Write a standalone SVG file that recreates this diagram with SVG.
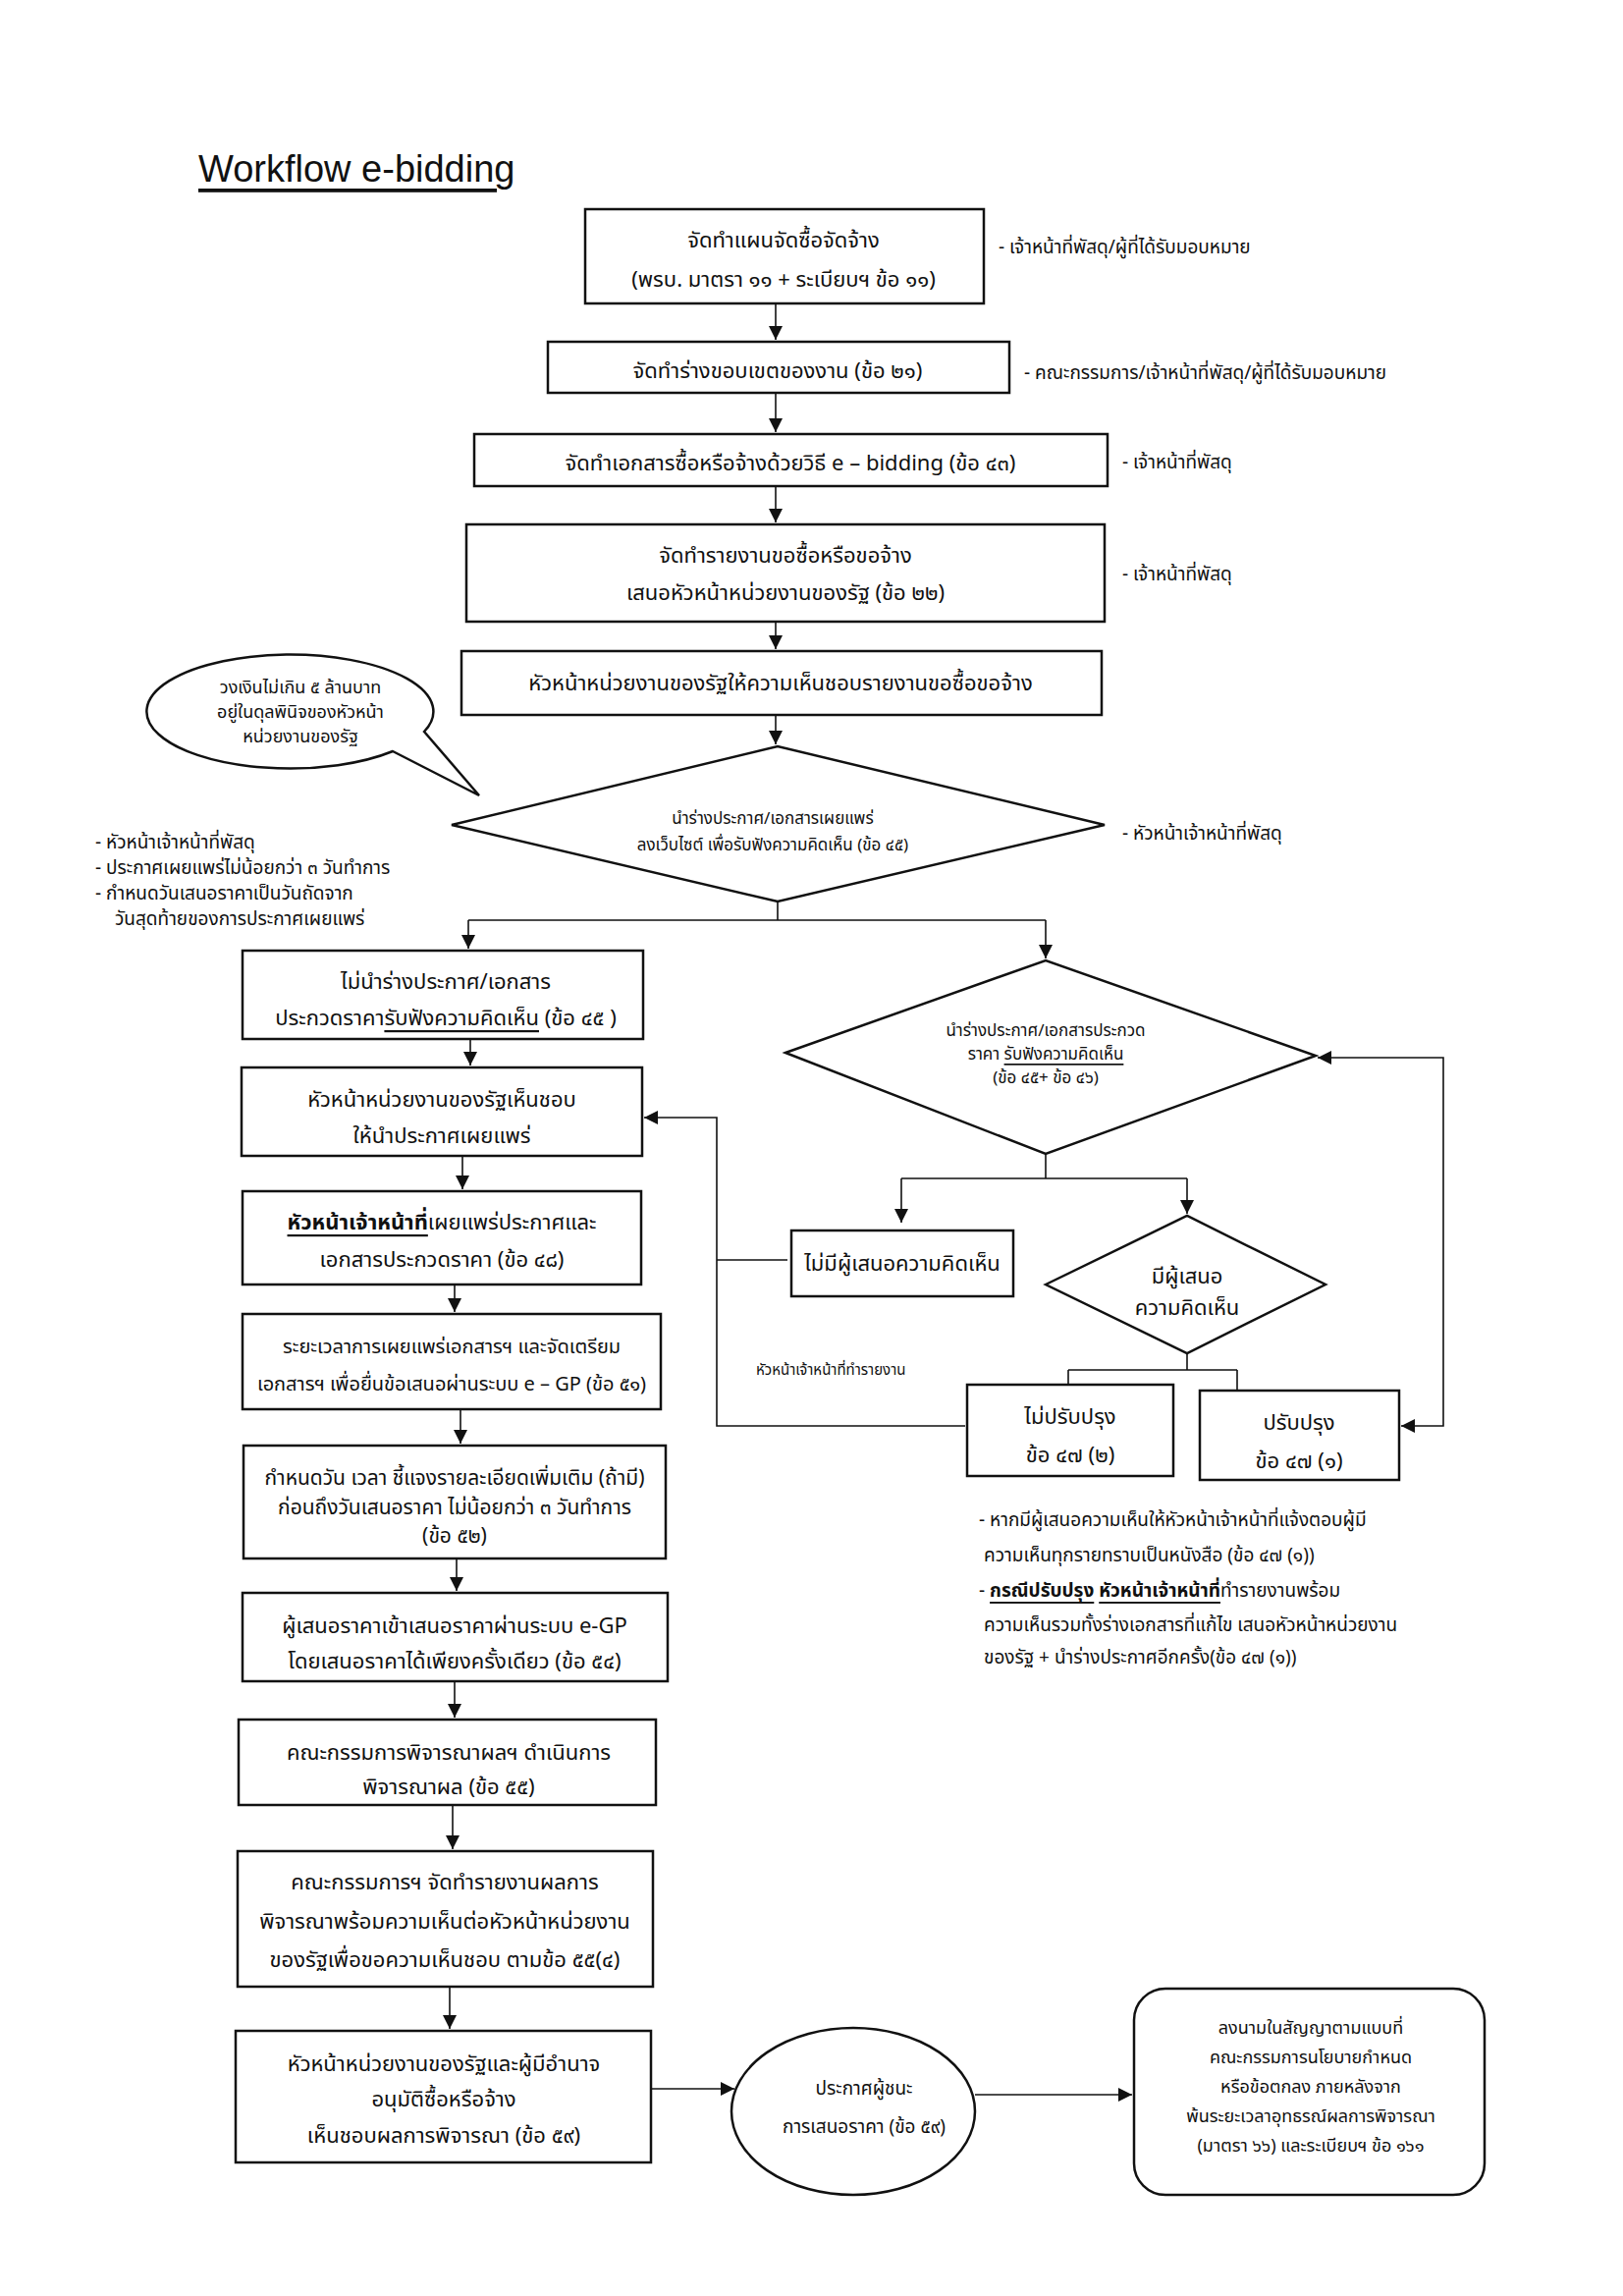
<svg xmlns="http://www.w3.org/2000/svg" width="1653" height="2338" viewBox="0 0 1653 2338">
<style>
text{font-family:"Noto Sans Thai","Noto Sans","DejaVu Sans",sans-serif;fill:#111;dominant-baseline:central}
.t{font-size:22px;text-anchor:middle}
.d{font-size:17px;text-anchor:middle}
.n{font-size:19px}
.box{fill:#fff;stroke:#111;stroke-width:2.5}
.c{fill:none;stroke:#111;stroke-width:1.6}
.u{text-decoration:underline}
.b{font-weight:bold;text-decoration:underline}
</style>
<defs>
<marker id="ah" viewBox="0 0 10 10" refX="10" refY="5" markerWidth="14" markerHeight="18" markerUnits="userSpaceOnUse" orient="auto-start-reverse">
<path d="M0,0 L10,5 L0,10 Z" fill="#111"/>
</marker>
</defs>
<rect width="1653" height="2338" fill="#fff"/>
<g id="title">
<text x="202" y="172" style="font-family:'Liberation Sans',sans-serif;font-size:38px" class="u">Workflow e-bidding</text>
</g>
<g id="connectors">
<path class="c" d="M790,309 V346" marker-end="url(#ah)"/>
<path class="c" d="M790,400 V440" marker-end="url(#ah)"/>
<path class="c" d="M790,495 V532" marker-end="url(#ah)"/>
<path class="c" d="M790,633 V661" marker-end="url(#ah)"/>
<path class="c" d="M790,728 V758" marker-end="url(#ah)"/>
<path class="c" d="M792,918 V937 M477,937 H1065"/>
<path class="c" d="M477,937 V966" marker-end="url(#ah)"/>
<path class="c" d="M1065,937 V976" marker-end="url(#ah)"/>
<path class="c" d="M479,1058 V1085" marker-end="url(#ah)"/>
<path class="c" d="M471,1177 V1211" marker-end="url(#ah)"/>
<path class="c" d="M463,1308 V1336" marker-end="url(#ah)"/>
<path class="c" d="M469,1435 V1470" marker-end="url(#ah)"/>
<path class="c" d="M465,1587 V1620" marker-end="url(#ah)"/>
<path class="c" d="M463,1712 V1749" marker-end="url(#ah)"/>
<path class="c" d="M461,1838 V1883" marker-end="url(#ah)"/>
<path class="c" d="M458,2023 V2066" marker-end="url(#ah)"/>
<path class="c" d="M663,2127 H748" marker-end="url(#ah)"/>
<path class="c" d="M993,2133 H1153" marker-end="url(#ah)"/>
<path class="c" d="M802,1283 H730 M983,1452 H730 V1138 H656" marker-end="url(#ah)"/>
<path class="c" d="M1065,1175 V1200 M918,1200 H1209"/>
<path class="c" d="M918,1200 V1245" marker-end="url(#ah)"/>
<path class="c" d="M1209,1200 V1236" marker-end="url(#ah)"/>
<path class="c" d="M1209,1378 V1395 M1088,1395 H1260 M1088,1395 V1410 M1260,1395 V1416"/>
<path class="c" d="M1342,1077 H1470 V1452 H1427" marker-start="url(#ah)" marker-end="url(#ah)"/>
</g>
<g id="n1">
<rect class="box" x="596" y="213" width="406" height="96"/>
<text class="t" x="798" y="245">จัดทำแผนจัดซื้อจัดจ้าง</text>
<text class="t" x="798" y="285">(พรบ. มาตรา ๑๑ + ระเบียบฯ ข้อ ๑๑)</text>
<text class="n" x="1017" y="252">- เจ้าหน้าที่พัสดุ/ผู้ที่ได้รับมอบหมาย</text>
</g>
<g id="n2">
<rect class="box" x="558" y="348" width="470" height="52"/>
<text class="t" x="792" y="378">จัดทำร่างขอบเขตของงาน (ข้อ ๒๑)</text>
<text class="n" x="1043" y="380">- คณะกรรมการ/เจ้าหน้าที่พัสดุ/ผู้ที่ได้รับมอบหมาย</text>
</g>
<g id="n3">
<rect class="box" x="483" y="442" width="645" height="53"/>
<text class="t" x="805" y="472">จัดทำเอกสารซื้อหรือจ้างด้วยวิธี e – bidding (ข้อ ๔๓)</text>
<text class="n" x="1143" y="471">- เจ้าหน้าที่พัสดุ</text>
</g>
<g id="n4">
<rect class="box" x="475" y="534" width="650" height="99"/>
<text class="t" x="800" y="566">จัดทำรายงานขอซื้อหรือขอจ้าง</text>
<text class="t" x="800" y="604">เสนอหัวหน้าหน่วยงานของรัฐ (ข้อ ๒๒)</text>
<text class="n" x="1143" y="585">- เจ้าหน้าที่พัสดุ</text>
</g>
<g id="n5">
<rect class="box" x="470" y="663" width="652" height="65"/>
<text class="t" x="795" y="696">หัวหน้าหน่วยงานของรัฐให้ความเห็นชอบรายงานขอซื้อขอจ้าง</text>
</g>
<g id="bubble">
<path class="box" d="M432,745 L488,810 L400,765 A146,58 0 1 1 432,745 Z" transform="translate(0,0)"/>
<text class="d" x="306" y="700" style="font-size:18px">วงเงินไม่เกิน ๕ ล้านบาท</text>
<text class="d" x="306" y="725" style="font-size:18px">อยู่ในดุลพินิจของหัวหน้า</text>
<text class="d" x="306" y="750" style="font-size:18px">หน่วยงานของรัฐ</text>
</g>
<g id="d1">
<polygon class="box" points="460,840 792,760 1125,840 792,918"/>
<text class="d" x="787" y="834">นำร่างประกาศ/เอกสารเผยแพร่</text>
<text class="d" x="787" y="861">ลงเว็บไซต์ เพื่อรับฟังความคิดเห็น (ข้อ ๔๕)</text>
<text class="n" x="1143" y="849">- หัวหน้าเจ้าหน้าที่พัสดุ</text>
</g>
<g id="leftnotes">
<text class="n" x="97" y="858">- หัวหน้าเจ้าหน้าที่พัสดุ</text>
<text class="n" x="97" y="884">- ประกาศเผยแพร่ไม่น้อยกว่า ๓ วันทำการ</text>
<text class="n" x="97" y="910">- กำหนดวันเสนอราคาเป็นวันถัดจาก</text>
<text class="n" x="117" y="936">วันสุดท้ายของการประกาศเผยแพร่</text>
</g>
<g id="n6">
<rect class="box" x="247" y="968" width="408" height="90"/>
<text class="t" x="454" y="1000">ไม่นำร่างประกาศ/เอกสาร</text>
<text class="t" x="454" y="1037">ประกวดราคา<tspan class="u">รับฟังความคิดเห็น</tspan> (ข้อ ๔๕ )</text>
</g>
<g id="n7">
<rect class="box" x="246" y="1087" width="408" height="90"/>
<text class="t" x="450" y="1120">หัวหน้าหน่วยงานของรัฐเห็นชอบ</text>
<text class="t" x="450" y="1157">ให้นำประกาศเผยแพร่</text>
</g>
<g id="n8">
<rect class="box" x="247" y="1213" width="406" height="95"/>
<text class="t" x="450" y="1245"><tspan class="b">หัวหน้าเจ้าหน้าที่</tspan>เผยแพร่ประกาศและ</text>
<text class="t" x="450" y="1283">เอกสารประกวดราคา (ข้อ ๔๘)</text>
</g>
<g id="n9">
<rect class="box" x="247" y="1338" width="426" height="97"/>
<text class="t" x="460" y="1372" style="font-size:20px">ระยะเวลาการเผยแพร่เอกสารฯ และจัดเตรียม</text>
<text class="t" x="460" y="1410" style="font-size:20px">เอกสารฯ เพื่อยื่นข้อเสนอผ่านระบบ e – GP (ข้อ ๕๑)</text>
</g>
<g id="n10">
<rect class="box" x="248" y="1472" width="430" height="115"/>
<text class="t" x="463" y="1505" style="font-size:21px">กำหนดวัน เวลา ชี้แจงรายละเอียดเพิ่มเติม (ถ้ามี)</text>
<text class="t" x="463" y="1535" style="font-size:21px">ก่อนถึงวันเสนอราคา ไม่น้อยกว่า ๓ วันทำการ</text>
<text class="t" x="463" y="1564" style="font-size:21px">(ข้อ ๕๒)</text>
</g>
<g id="n11">
<rect class="box" x="247" y="1622" width="433" height="90"/>
<text class="t" x="463" y="1656">ผู้เสนอราคาเข้าเสนอราคาผ่านระบบ e-GP</text>
<text class="t" x="463" y="1692">โดยเสนอราคาได้เพียงครั้งเดียว (ข้อ ๕๔)</text>
</g>
<g id="n12">
<rect class="box" x="243" y="1751" width="425" height="87"/>
<text class="t" x="457" y="1785">คณะกรรมการพิจารณาผลฯ ดำเนินการ</text>
<text class="t" x="457" y="1820">พิจารณาผล (ข้อ ๕๕)</text>
</g>
<g id="n13">
<rect class="box" x="242" y="1885" width="423" height="138"/>
<text class="t" x="453" y="1917">คณะกรรมการฯ จัดทำรายงานผลการ</text>
<text class="t" x="453" y="1957">พิจารณาพร้อมความเห็นต่อหัวหน้าหน่วยงาน</text>
<text class="t" x="453" y="1996">ของรัฐเพื่อขอความเห็นชอบ ตามข้อ ๕๕(๔)</text>
</g>
<g id="n14">
<rect class="box" x="240" y="2068" width="423" height="134"/>
<text class="t" x="452" y="2102">หัวหน้าหน่วยงานของรัฐและผู้มีอำนาจ</text>
<text class="t" x="452" y="2138">อนุมัติซื้อหรือจ้าง</text>
<text class="t" x="452" y="2175">เห็นชอบผลการพิจารณา (ข้อ ๕๙)</text>
</g>
<g id="n15">
<ellipse class="box" cx="869" cy="2150" rx="124" ry="85"/>
<text class="d" x="880" y="2127" style="font-size:19px">ประกาศผู้ชนะ</text>
<text class="d" x="880" y="2166" style="font-size:19px">การเสนอราคา (ข้อ ๕๙)</text>
</g>
<g id="n16">
<rect class="box" x="1155" y="2025" width="357" height="210" rx="32"/>
<text class="d" x="1335" y="2065" style="font-size:18px">ลงนามในสัญญาตามแบบที่</text>
<text class="d" x="1335" y="2095" style="font-size:18px">คณะกรรมการนโยบายกำหนด</text>
<text class="d" x="1335" y="2125" style="font-size:18px">หรือข้อตกลง ภายหลังจาก</text>
<text class="d" x="1335" y="2155" style="font-size:18px">พ้นระยะเวลาอุทธรณ์ผลการพิจารณา</text>
<text class="d" x="1335" y="2185" style="font-size:18px">(มาตรา ๖๖) และระเบียบฯ ข้อ ๑๖๑</text>
</g>
<g id="d2">
<polygon class="box" points="800,1072 1065,978 1340,1075 1065,1175"/>
<text class="d" x="1065" y="1050">นำร่างประกาศ/เอกสารประกวด</text>
<text class="d" x="1065" y="1074">ราคา <tspan class="u">รับฟังความคิดเห็น</tspan></text>
<text class="d" x="1065" y="1098">(ข้อ ๔๕+ ข้อ ๔๖)</text>
</g>
<g id="n17">
<rect class="box" x="806" y="1253" width="226" height="67"/>
<text class="t" x="919" y="1287">ไม่มีผู้เสนอความคิดเห็น</text>
</g>
<g id="d3">
<polygon class="box" points="1065,1308 1209,1238 1350,1308 1209,1378"/>
<text class="t" x="1209" y="1300">มีผู้เสนอ</text>
<text class="t" x="1209" y="1332">ความคิดเห็น</text>
</g>
<g id="n18">
<rect class="box" x="985" y="1410" width="210" height="93"/>
<text class="t" x="1090" y="1443">ไม่ปรับปรุง</text>
<text class="t" x="1090" y="1482">ข้อ ๔๗ (๒)</text>
</g>
<g id="n19">
<rect class="box" x="1222" y="1416" width="203" height="91"/>
<text class="t" x="1323" y="1449">ปรับปรุง</text>
<text class="t" x="1323" y="1488">ข้อ ๔๗ (๑)</text>
</g>
<g id="label1">
<text x="770" y="1395" style="font-size:15px">หัวหน้าเจ้าหน้าที่ทำรายงาน</text>
</g>
<g id="rightnotes">
<text class="n" x="997" y="1548">- หากมีผู้เสนอความเห็นให้หัวหน้าเจ้าหน้าที่แจ้งตอบผู้มี</text>
<text class="n" x="1002" y="1584">ความเห็นทุกรายทราบเป็นหนังสือ (ข้อ ๔๗ (๑))</text>
<text class="n" x="997" y="1620">- <tspan class="b">กรณีปรับปรุง</tspan> <tspan class="b">หัวหน้าเจ้าหน้าที่</tspan>ทำรายงานพร้อม</text>
<text class="n" x="1002" y="1655">ความเห็นรวมทั้งร่างเอกสารที่แก้ไข เสนอหัวหน้าหน่วยงาน</text>
<text class="n" x="1002" y="1688">ของรัฐ + นำร่างประกาศอีกครั้ง(ข้อ ๔๗ (๑))</text>
</g>
</svg>
